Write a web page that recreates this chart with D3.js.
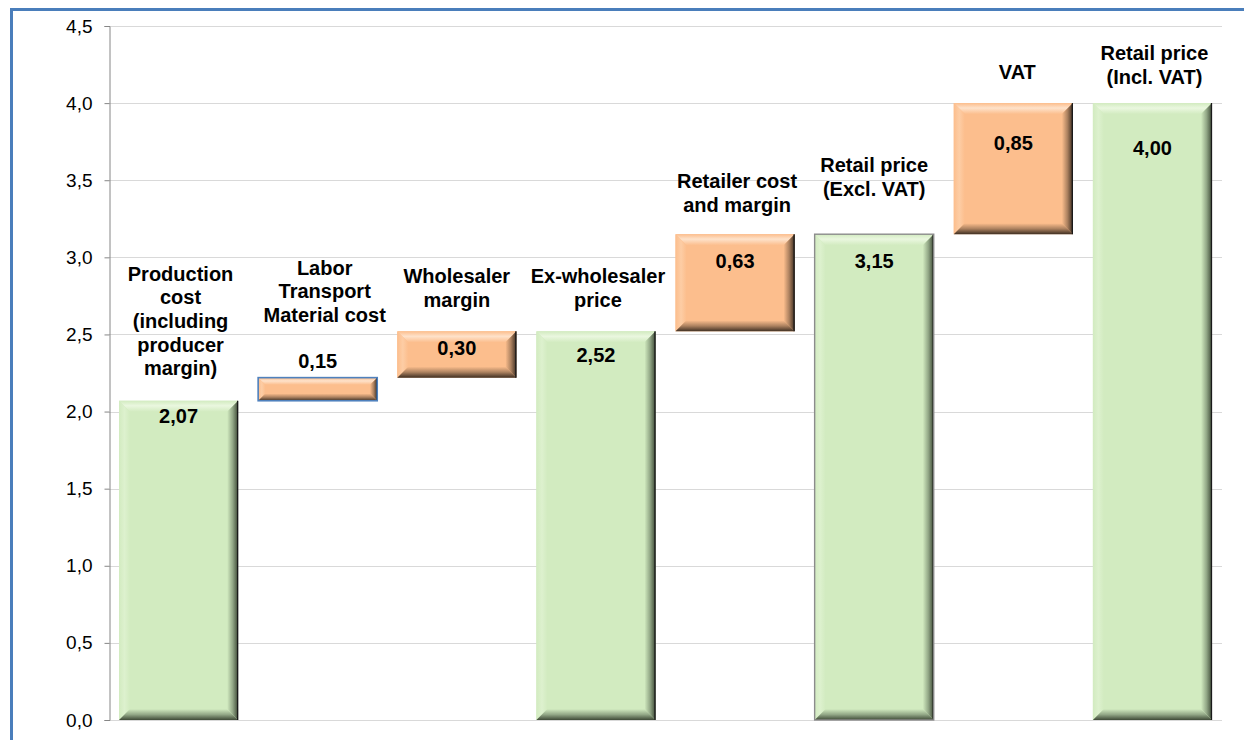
<!DOCTYPE html>
<html>
<head>
<meta charset="utf-8">
<script src="https://cdn.jsdelivr.net/npm/d3@7"></script>
<style>
  html, body { margin: 0; padding: 0; background: #ffffff; }
  svg { display: block; }
  text { font-family: "Liberation Sans", Arial, sans-serif; }
</style>
</head>
<body>
<svg id="chart" width="1244" height="740"></svg>
<script>
// Price build-up, step by step (waterfall)
const categories = [
  "Production cost (including producer margin)",
  "Labor Transport Material cost",
  "Wholesaler margin",
  "Ex-wholesaler price",
  "Retailer cost and margin",
  "Retail price (Excl. VAT)",
  "VAT",
  "Retail price (Incl. VAT)"
];
const categoryLines = [
  ["Production", "cost", "(including", "producer", "margin)"],
  ["Labor", "Transport", "Material cost"],
  ["Wholesaler", "margin"],
  ["Ex-wholesaler", "price"],
  ["Retailer cost", "and margin"],
  ["Retail price", "(Excl. VAT)"],
  ["VAT"],
  ["Retail price", "(Incl. VAT)"]
];
const values = [2.07, 0.15, 0.30, 2.52, 0.63, 3.15, 0.85, 4.00];
const kinds  = ["total", "step", "step", "total", "step", "total", "step", "total"];
const valueLabels = ["2,07", "0,15", "0,30", "2,52", "0,63", "3,15", "0,85", "4,00"];
const yTicks = [0, 0.5, 1, 1.5, 2, 2.5, 3, 3.5, 4, 4.5];
const yTickLabels = ["0,0", "0,5", "1,0", "1,5", "2,0", "2,5", "3,0", "3,5", "4,0", "4,5"];

// waterfall extents: totals start at 0, steps stack on the running total
let running = 0;
const bars = values.map((v, i) => {
  let lo, hi;
  if (kinds[i] === "total") { lo = 0; hi = v; running = v; }
  else { lo = running; hi = running + v; running = hi; }
  return { i, lo, hi, kind: kinds[i], label: valueLabels[i], lines: categoryLines[i], name: categories[i] };
});

const svg = d3.select("#chart");
const plotLeft = 109, plotRight = 1222, plotTop = 26, plotBottom = 720;

const x = d3.scaleBand().domain(categories).range([plotLeft, plotRight]).paddingInner(0.144).paddingOuter(0.072);
const y = d3.scaleLinear().domain([0, 4.5]).range([plotBottom, plotTop]);

// frame
svg.append("line").attr("x1", 11.5).attr("x2", 11.5).attr("y1", 8).attr("y2", 740)
  .attr("stroke", "#4a7ebb").attr("stroke-width", 3);
svg.append("line").attr("x1", 10).attr("x2", 1244).attr("y1", 9.5).attr("y2", 9.5)
  .attr("stroke", "#4a7ebb").attr("stroke-width", 3);

// gridlines
svg.append("g").selectAll("line").data(yTicks).join("line")
  .attr("x1", plotLeft).attr("x2", plotRight)
  .attr("y1", d => Math.round(y(d)) + 0.5).attr("y2", d => Math.round(y(d)) + 0.5)
  .attr("stroke", "#d9d9d9").attr("stroke-width", 1);

// y axis
const yAxis = d3.axisLeft(y).tickValues(yTicks).tickSize(5).tickPadding(12)
  .tickFormat((d, i) => yTickLabels[i]);
const gy = svg.append("g").attr("transform", `translate(${plotLeft + 0.5},0)`).call(yAxis);
gy.select(".domain").attr("stroke", "#868686");
gy.selectAll(".tick line").attr("stroke", "#868686");
gy.selectAll(".tick text").attr("font-size", 19).attr("fill", "#000")
  .attr("font-family", "'Liberation Sans', Arial, sans-serif");

// bevel gradients
const defs = svg.append("defs");
const palettes = {
  total: { face: "#d2ebc0", light: "#eaf7df", lightSide: "#ddf1ce", dark: "#3e4a37", mid: "#93a887" },
  step:  { face: "#fcbe8d", light: "#fee2ca", lightSide: "#fdcda5", dark: "#3f2f22", mid: "#ad8260" }
};
Object.entries(palettes).forEach(([k, p]) => {
  const gTop = defs.append("linearGradient").attr("id", `top-${k}`).attr("x1", 0).attr("y1", 0).attr("x2", 0).attr("y2", 1);
  gTop.append("stop").attr("offset", 0).attr("stop-color", p.face);
  gTop.append("stop").attr("offset", 0.45).attr("stop-color", p.light);
  gTop.append("stop").attr("offset", 1).attr("stop-color", p.face);
  const gLeft = defs.append("linearGradient").attr("id", `left-${k}`).attr("x1", 0).attr("y1", 0).attr("x2", 1).attr("y2", 0);
  gLeft.append("stop").attr("offset", 0).attr("stop-color", p.face);
  gLeft.append("stop").attr("offset", 0.5).attr("stop-color", p.lightSide);
  gLeft.append("stop").attr("offset", 1).attr("stop-color", p.face);
  const gRight = defs.append("linearGradient").attr("id", `right-${k}`).attr("x1", 0).attr("y1", 0).attr("x2", 1).attr("y2", 0);
  gRight.append("stop").attr("offset", 0).attr("stop-color", p.face);
  gRight.append("stop").attr("offset", 0.5).attr("stop-color", p.mid);
  gRight.append("stop").attr("offset", 1).attr("stop-color", p.dark);
  const gBot = defs.append("linearGradient").attr("id", `bottom-${k}`).attr("x1", 0).attr("y1", 0).attr("x2", 0).attr("y2", 1);
  gBot.append("stop").attr("offset", 0).attr("stop-color", p.face);
  gBot.append("stop").attr("offset", 0.5).attr("stop-color", p.mid);
  gBot.append("stop").attr("offset", 1).attr("stop-color", p.dark);
});

// bars with bevelled edges
const gBars = svg.append("g");
bars.forEach(b => {
  const x0 = x(b.name), x1 = x0 + x.bandwidth();
  const y0 = y(b.hi), y1 = y(b.lo);
  const h = y1 - y0;
  const bv = Math.min(11, h / 3.2);
  const g = gBars.append("g");
  const p = palettes[b.kind];
  g.append("rect").attr("x", x0).attr("y", y0).attr("width", x1 - x0).attr("height", h).attr("fill", p.face);
  const poly = (pts, fill) => g.append("polygon").attr("points", pts.map(q => q.join(",")).join(" ")).attr("fill", fill);
  poly([[x0, y0], [x1, y0], [x1 - bv, y0 + bv], [x0 + bv, y0 + bv]], `url(#top-${b.kind})`);
  poly([[x0, y0], [x0 + bv, y0 + bv], [x0 + bv, y1 - bv], [x0, y1]], `url(#left-${b.kind})`);
  poly([[x1, y0], [x1, y1], [x1 - bv, y1 - bv], [x1 - bv, y0 + bv]], `url(#right-${b.kind})`);
  poly([[x0, y1], [x0 + bv, y1 - bv], [x1 - bv, y1 - bv], [x1, y1]], `url(#bottom-${b.kind})`);
  g.append("line").attr("x1", x1 - 0.5).attr("x2", x1 - 0.5).attr("y1", y0).attr("y2", y1)
    .attr("stroke", "#1a1a1a").attr("stroke-width", 1.3);
  if (b.i === 1) {
    g.append("rect").attr("x", x0).attr("y", y0).attr("width", x1 - x0).attr("height", h)
      .attr("fill", "none").attr("stroke", "#4f81bd").attr("stroke-width", 1.6);
  }
  if (b.i === 5) {
    g.append("rect").attr("x", x0).attr("y", y0).attr("width", x1 - x0).attr("height", h)
      .attr("fill", "none").attr("stroke", "#8c8c8c").attr("stroke-width", 1.4);
  }
});

// label placement: value label drop below bar top, category block lift above bar top
const valueDrop = [15, -17, 17, 24, 27, 27, 40, 45];
const nameLift  = [127, 110, 55, 55, 53, 69, 31, 50];
const nameShift = [2, 7, 0, 2, 2, 0, 4, 2];
const lineGap = 23.6;

const gLabels = svg.append("g");
bars.forEach(b => {
  const cx = x(b.name) + x.bandwidth() / 2;
  const yTop = y(b.hi);
  gLabels.append("text")
    .attr("x", cx).attr("y", yTop + valueDrop[b.i])
    .attr("dy", "0.35em").attr("text-anchor", "middle")
    .attr("font-size", 20).attr("font-weight", "bold").attr("fill", "#000")
    .text(b.label);
  const t = gLabels.append("text")
    .attr("text-anchor", "middle").attr("font-size", 20).attr("font-weight", "bold").attr("fill", "#000");
  b.lines.forEach((ln, k) => {
    t.append("tspan").attr("x", cx + nameShift[b.i])
      .attr("y", yTop - nameLift[b.i] + k * lineGap).attr("dy", "0.35em").text(ln);
  });
});
</script>
</body>
</html>
